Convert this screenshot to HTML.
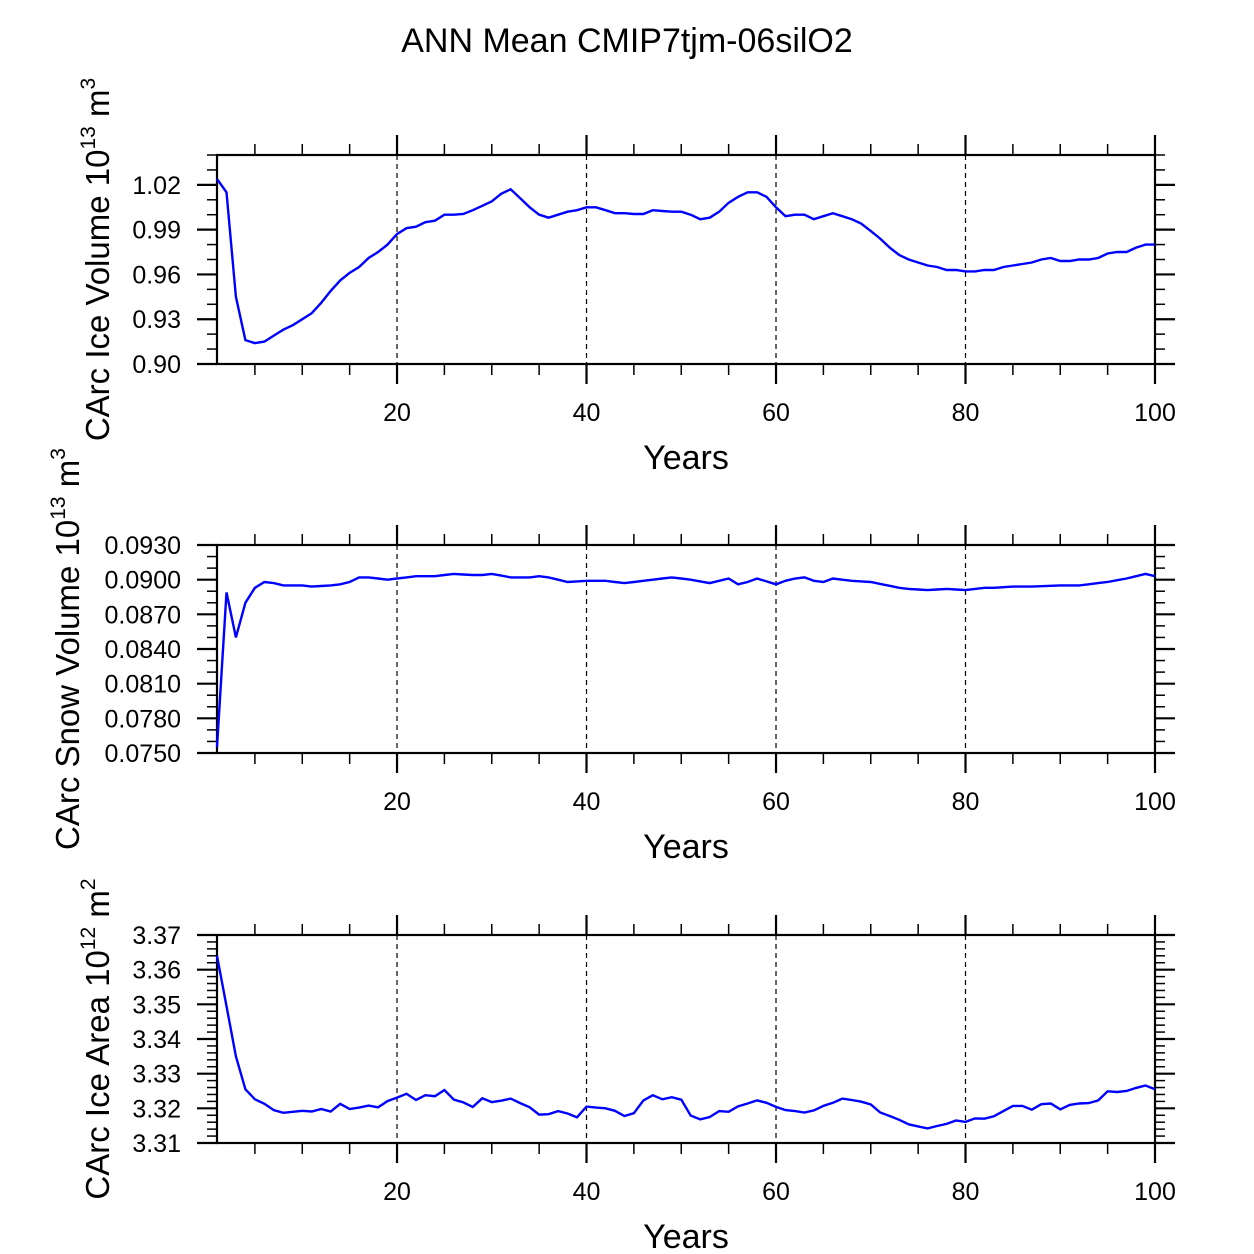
<!DOCTYPE html>
<html><head><meta charset="utf-8"><style>body{margin:0;background:#fff}svg{display:block}text{font-family:"Liberation Sans",Arial,sans-serif;fill:#000}</style></head>
<body><svg id="s" width="1254" height="1254" xmlns="http://www.w3.org/2000/svg">
<rect width="1254" height="1254" fill="#fff"/>
<text x="627" y="52" font-size="34" text-anchor="middle">ANN Mean CMIP7tjm-06silO2</text>
</svg>
<script>
const S=document.getElementById('s'),NS='http://www.w3.org/2000/svg';
function el(t,a,txt){const e=document.createElementNS(NS,t);for(const k in a)e.setAttribute(k,a[k]);if(txt!==undefined)e.textContent=txt;S.appendChild(e);return e;}
const X0=217,X1=1155;const xp=y=>X0+(y-1)*(X1-X0)/99;
function interp(kp){const o=[];const ks=Object.keys(kp).map(Number).sort((a,b)=>a-b);for(let y=1;y<=100;y++){let i=0;while(i<ks.length-1&&ks[i+1]<y)i++;const a=ks[i],b=ks[Math.min(i+1,ks.length-1)];o.push(a==b?kp[a]:kp[a]+(kp[b]-kp[a])*(y-a)/(b-a));}return o;}
function panel(top,bot,ymin,ymax,maj,minr,dec,data,title,tx){
 const yp=v=>bot-(v-ymin)/(ymax-ymin)*(bot-top);
 [20,40,60,80].forEach(y=>el('line',{x1:xp(y),x2:xp(y),y1:top,y2:bot,stroke:'#000','stroke-width':1.2,'stroke-dasharray':'5,4'}));
 for(let y=5;y<=100;y+=5){const x=xp(y);const M=y%20==0;const L=M?20:11;
  el('line',{x1:x,x2:x,y1:bot,y2:bot+L,stroke:'#000','stroke-width':M?2.2:1.5});
  el('line',{x1:x,x2:x,y1:top,y2:top-L,stroke:'#000','stroke-width':M?2.2:1.5});
  if(M)el('text',{x:x,y:bot+57,'font-size':25,'text-anchor':'middle'},String(y));}
 el('text',{x:686,y:bot+105,'font-size':34,'text-anchor':'middle'},'Years');
 const nm=Math.round((ymax-ymin)/minr);
 for(let i=0;i<=nm;i++){const v=ymin+i*minr;const y=yp(v);const M=Math.abs(((v-ymin)/maj)-Math.round((v-ymin)/maj))<1e-6;const L=M?20:10;
  el('line',{x1:X0,x2:X0-L,y1:y,y2:y,stroke:'#000','stroke-width':M?2.2:1.5});
  el('line',{x1:X1,x2:X1+L,y1:y,y2:y,stroke:'#000','stroke-width':M?2.2:1.5});
  if(M)el('text',{x:181,y:y+9,'font-size':25,'text-anchor':'end'},v.toFixed(dec));}
 el('rect',{x:X0,y:top,width:X1-X0,height:bot-top,fill:'none',stroke:'#000','stroke-width':2.2});
 let d='';data.forEach((v,i)=>{d+=(i?'L':'M')+xp(i+1).toFixed(1)+','+yp(v).toFixed(1);});
 el('path',{d:d,fill:'none',stroke:'#0000ff','stroke-width':2.4});
 const cy=(top+bot)/2;
 const t=el('text',{x:tx,y:cy,'font-size':33,'text-anchor':'middle',transform:`rotate(-90 ${tx} ${cy})`});
 t.innerHTML=title;
}
const v1=[1.024,1.015,0.945,0.916,0.914,0.915,0.919,0.923,0.926,0.930,0.934,0.941,0.949,0.956,0.961,0.965,0.971,0.975,0.980,0.987,0.991,0.992,0.995,0.996,1.000,1.000,1.0005,1.003,1.006,1.009,1.014,1.017,1.011,1.005,1.000,0.998,1.000,1.002,1.003,1.005,1.005,1.003,1.001,1.001,1.0005,1.0005,1.003,1.0025,1.002,1.002,1.000,0.997,0.998,1.002,1.008,1.012,1.015,1.015,1.012,1.005,0.999,1.000,1.000,0.997,0.999,1.001,0.999,0.997,0.994,0.989,0.984,0.978,0.973,0.970,0.968,0.966,0.965,0.963,0.963,0.962,0.962,0.963,0.963,0.965,0.966,0.967,0.968,0.970,0.971,0.969,0.969,0.970,0.970,0.971,0.974,0.975,0.975,0.978,0.980,0.980];
const v2=interp({1:0.0755,2:0.0889,3:0.0850,4:0.0880,5:0.0893,6:0.0898,7:0.0897,8:0.0895,10:0.0895,11:0.0894,13:0.0895,14:0.0896,15:0.0898,16:0.0902,17:0.0902,19:0.0900,20:0.0901,22:0.0903,24:0.0903,25:0.0904,26:0.0905,28:0.0904,29:0.0904,30:0.0905,32:0.0902,34:0.0902,35:0.0903,36:0.0902,38:0.0898,40:0.0899,42:0.0899,44:0.0897,46:0.0899,48:0.0901,49:0.0902,51:0.0900,53:0.0897,55:0.0901,56:0.0896,57:0.0898,58:0.0901,60:0.0896,61:0.0899,62:0.0901,63:0.0902,64:0.0899,65:0.0898,66:0.0901,68:0.0899,70:0.0898,73:0.0893,74:0.0892,76:0.0891,78:0.0892,80:0.0891,82:0.0893,83:0.0893,85:0.0894,87:0.0894,90:0.0895,92:0.0895,95:0.0898,97:0.0901,98:0.0903,99:0.0905,100:0.0903});
const v3=[3.364,3.3495,3.335,3.3255,3.3226,3.3213,3.3195,3.3187,3.3190,3.3193,3.3191,3.3198,3.3191,3.3213,3.3198,3.3202,3.3208,3.3203,3.3221,3.3231,3.3242,3.3224,3.3238,3.3235,3.3253,3.3225,3.3217,3.3204,3.3229,3.3218,3.3222,3.3228,3.3215,3.3203,3.3182,3.3183,3.3192,3.3185,3.3174,3.3205,3.3202,3.3200,3.3193,3.3178,3.3186,3.3223,3.3238,3.3226,3.3232,3.3225,3.3179,3.3168,3.3175,3.3192,3.3190,3.3206,3.3214,3.3223,3.3216,3.3204,3.3195,3.3192,3.3188,3.3194,3.3207,3.3216,3.3228,3.3224,3.3219,3.3211,3.3188,3.3178,3.3167,3.3154,3.3148,3.3142,3.3149,3.3155,3.3165,3.3161,3.3171,3.3170,3.3177,3.3192,3.3207,3.3207,3.3196,3.3212,3.3214,3.3197,3.3210,3.3214,3.3215,3.3223,3.3249,3.3247,3.3250,3.3259,3.3266,3.3255];
panel(155,364,0.90,1.04,0.03,0.01,2,v1,'CArc Ice Volume 10<tspan font-size="21" dy="-14">13</tspan><tspan dy="14"> m</tspan><tspan font-size="21" dy="-14">3</tspan>',109);
panel(545,753,0.075,0.093,0.003,0.001,4,v2,'CArc Snow Volume 10<tspan font-size="21" dy="-14">13</tspan><tspan dy="14"> m</tspan><tspan font-size="21" dy="-14">3</tspan>',79);
panel(935,1143,3.31,3.37,0.01,0.002,2,v3,'CArc Ice Area 10<tspan font-size="21" dy="-14">12</tspan><tspan dy="14"> m</tspan><tspan font-size="21" dy="-14">2</tspan>',109);
</script></body></html>
